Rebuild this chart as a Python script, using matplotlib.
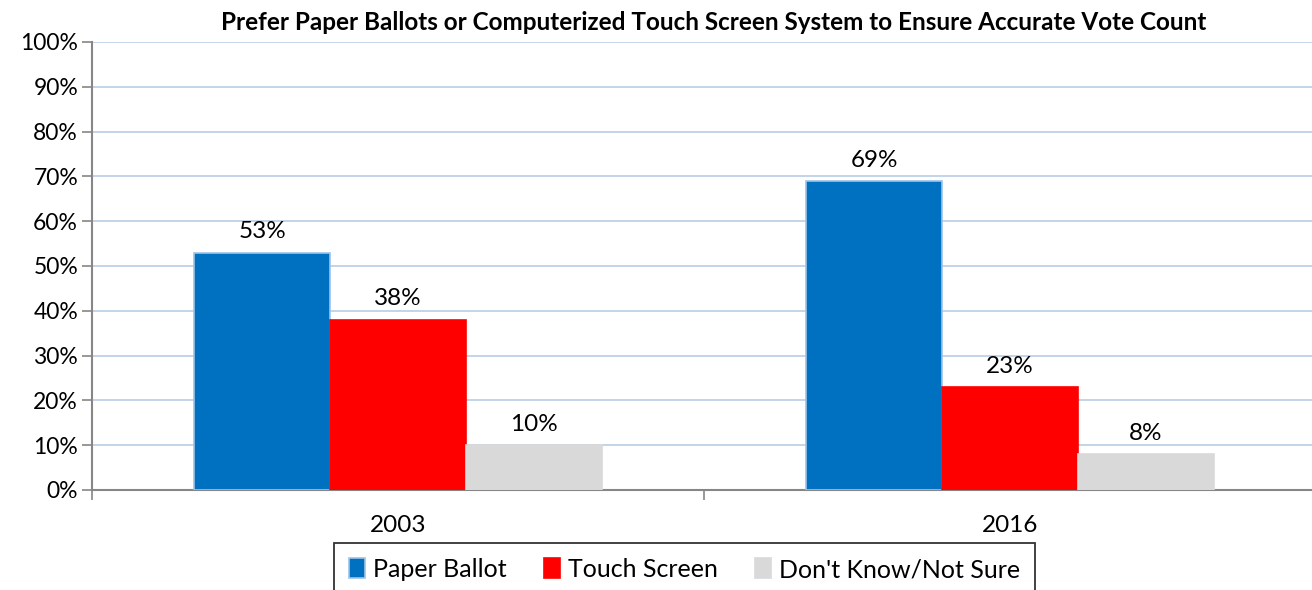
import matplotlib.pyplot as plt
import numpy as np

plt.rcParams['font.family'] = ['Lato', 'DejaVu Sans']

years = ['2003', '2016']
series = ['Paper Ballot', 'Touch Screen', "Don't Know/Not Sure"]
paper = [53, 69]
touch = [38, 23]
dunno = [10, 8]
colors = ['#0070C0', '#FF0000', '#D9D9D9']
edges = ['#9DC3E6', '#FF0000', '#D9D9D9']

fig = plt.figure(figsize=(13.12, 5.9), dpi=100)
ax = fig.add_axes([92 / 1312, 100 / 590, 1224 / 1312, 448 / 590])

x = np.arange(len(years))
w = 0.222
for i, (vals, name) in enumerate(zip([paper, touch, dunno], series)):
    pos = x + (i - 1) * w
    ax.bar(pos, vals, w, color=colors[i], edgecolor=edges[i], linewidth=1.2,
           label=name, zorder=3)
    for p, v in zip(pos, vals):
        ax.text(p, v + 2.3, '{0}%'.format(v), ha='center', va='bottom',
                fontsize=17.5, color='black')

ax.set_xlim(-0.5, 1.5)
ax.set_ylim(0, 100)
ax.set_yticks(range(0, 101, 10))
ax.set_yticklabels(['{0}%'.format(v) for v in range(0, 101, 10)], fontsize=16.5)
ax.yaxis.grid(True, color='#B9CDE5', linewidth=1.2, zorder=0)
ax.set_axisbelow(True)

# category labels at centres, tick marks at boundaries
ax.set_xticks([-0.5, 0.5, 1.5])
ax.set_xticklabels([])
ax.set_xticks(x, minor=True)
ax.set_xticklabels(years, minor=True, fontsize=17.5)
ax.tick_params(axis='x', which='minor', length=0, pad=18)
ax.tick_params(axis='x', which='major', length=7, color='#868686', width=1.2)
ax.tick_params(axis='y', length=7, color='#868686', width=1.2, pad=3)

for s in ['top', 'right']:
    ax.spines[s].set_visible(False)
for s in ['left', 'bottom']:
    ax.spines[s].set_color('#868686')
    ax.spines[s].set_linewidth(1.5)

fig.text(714 / 1312, 1 - 22 / 590,
         'Prefer Paper Ballots or Computerized Touch Screen System to Ensure Accurate Vote Count',
         ha='center', va='center', fontsize=17.5, fontweight='bold')

leg = fig.legend(loc='upper center', bbox_to_anchor=(684.5 / 1312, 1 - 543 / 590),
                 borderaxespad=0, ncol=3, fontsize=18, frameon=True, fancybox=False,
                 edgecolor='black', handlelength=0.65, handleheight=0.85,
                 handletextpad=0.3, columnspacing=1.5, borderpad=0.6)
leg.get_frame().set_linewidth(1.3)

plt.savefig('out.png', dpi=100)
